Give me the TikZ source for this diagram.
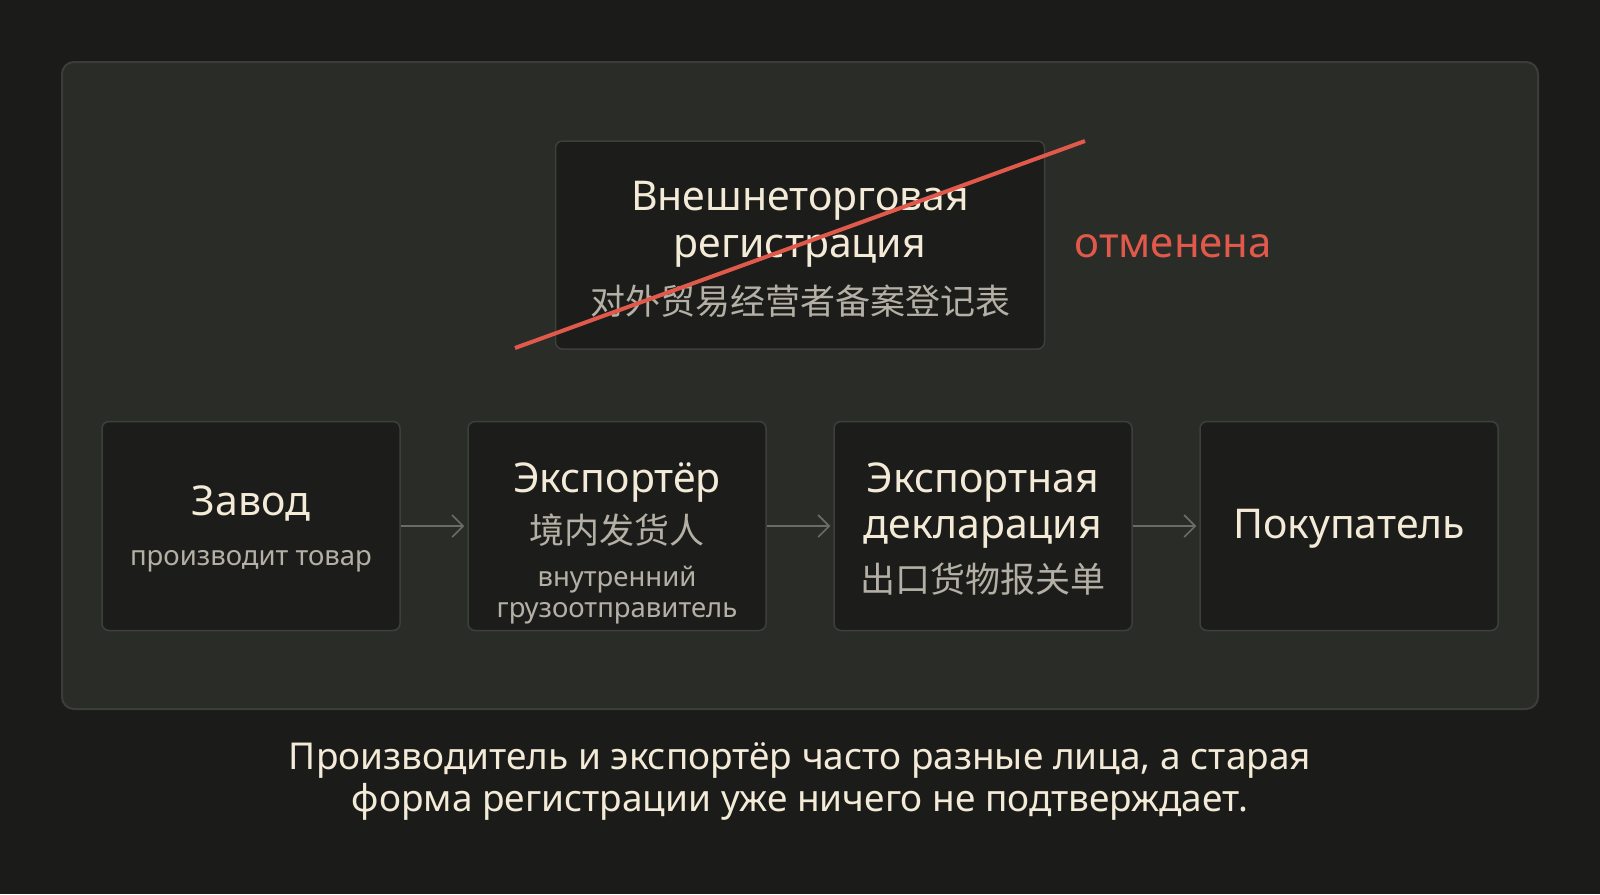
\documentclass[tikz,border=0pt]{standalone}
\usepackage{fontspec}
\setmainfont{Noto Sans}
\newfontfamily\cjk{Noto Sans CJK SC}
\usepackage{xcolor}
\usetikzlibrary{positioning,arrows.meta}

\definecolor{bgdark}{HTML}{1B1C19}
\definecolor{panelgray}{HTML}{2A2C28}
\definecolor{panelline}{HTML}{3B3D39}
\definecolor{cardfill}{HTML}{1C1D1A}
\definecolor{cardline}{HTML}{3D3F3B}
\definecolor{cream}{HTML}{F3EAD8}
\definecolor{subgray}{HTML}{B4B0A5}
\definecolor{strikered}{HTML}{E0594B}
\definecolor{arrowgray}{HTML}{6B6C66}
\newcommand{\fsz}[1]{\fontsize{#1}{#1}\selectfont}

\begin{document}
\begin{tikzpicture}[
    x=1pt, y=-1pt,
    card/.style={draw=cardline, fill=cardfill, line width=1.5pt, rounded corners=7pt,
        minimum width=298pt, minimum height=209pt, inner sep=0pt},
    head/.style={anchor=base, text=cream, font=\fsz{41}},
    sub/.style={anchor=base, text=subgray, font=\fsz{27.5}},
    hanzi/.style={anchor=base, text=subgray, font=\cjk\fsz{35}},
    flow/.style={draw=arrowgray, line width=1.6pt, shorten >=3pt,
        -{Straight Barb[length=11pt, width=22pt, line width=1.6pt]}},
]
% Canvas
\fill[bgdark] (0,0) rectangle (1600,894);
\useasboundingbox (0,0) rectangle (1600,894);
\draw[panelline, fill=panelgray, line width=2pt, rounded corners=12pt] (62,62) rectangle (1538,709);

% Old registration (struck out)
\node[card, minimum width=489pt, minimum height=208pt] (reg) at (800,245) {};
\node[head] (regA) at (800,210) {Внешнеторговая};
\node[head] (regB) at (800,257) {регистрация};
\node[hanzi] (regC) at (800,314) {对外贸易经营者备案登记表};
\coordinate (cutA) at (515,348);
\coordinate (cutB) at (1085,141);
\draw[strikered, line width=4pt] (cutA) -- (cutB);
\node[anchor=base west, text=strikered, font=\fsz{42}] (cancelled) at (1071,257) {отменена};

% Chain of cards
\foreach \n/\x in {zavod/251, exporter/617, decl/983, buyer/1349} {
    \node[card] (\n) at (\x,526) {};
}
\foreach \a/\b in {zavod/exporter, exporter/decl, decl/buyer} {
    \draw[flow] (\a) -- (\b);
}

% Card texts
\node[head] (zavodA) at (251,515) {Завод};
\node[sub] (zavodB) at (251,565) {производит товар};

\node[head] (exporterA) at (617,492) {Экспортёр};
\node[hanzi] (exporterB) at (617,543) {境内发货人};
\node[sub] (exporterC) at (617,586) {внутренний};
\node[sub] (exporterD) at (617,617) {грузоотправитель};

\node[head] (declA) at (983,492) {Экспортная};
\node[head] (declB) at (983,538) {декларация};
\node[hanzi] (declC) at (983,592) {出口货物报关单};

\node[head] (buyerA) at (1349,538) {Покупатель};

% Caption
\node[anchor=base, text=cream, font=\fsz{37}] (noteA) at (800,769)
    {Производитель и экспортёр часто разные лица, а старая};
\node[anchor=base, text=cream, font=\fsz{37}] (noteB) at (800,811)
    {форма регистрации уже ничего не подтверждает.};
\end{tikzpicture}
\end{document}
